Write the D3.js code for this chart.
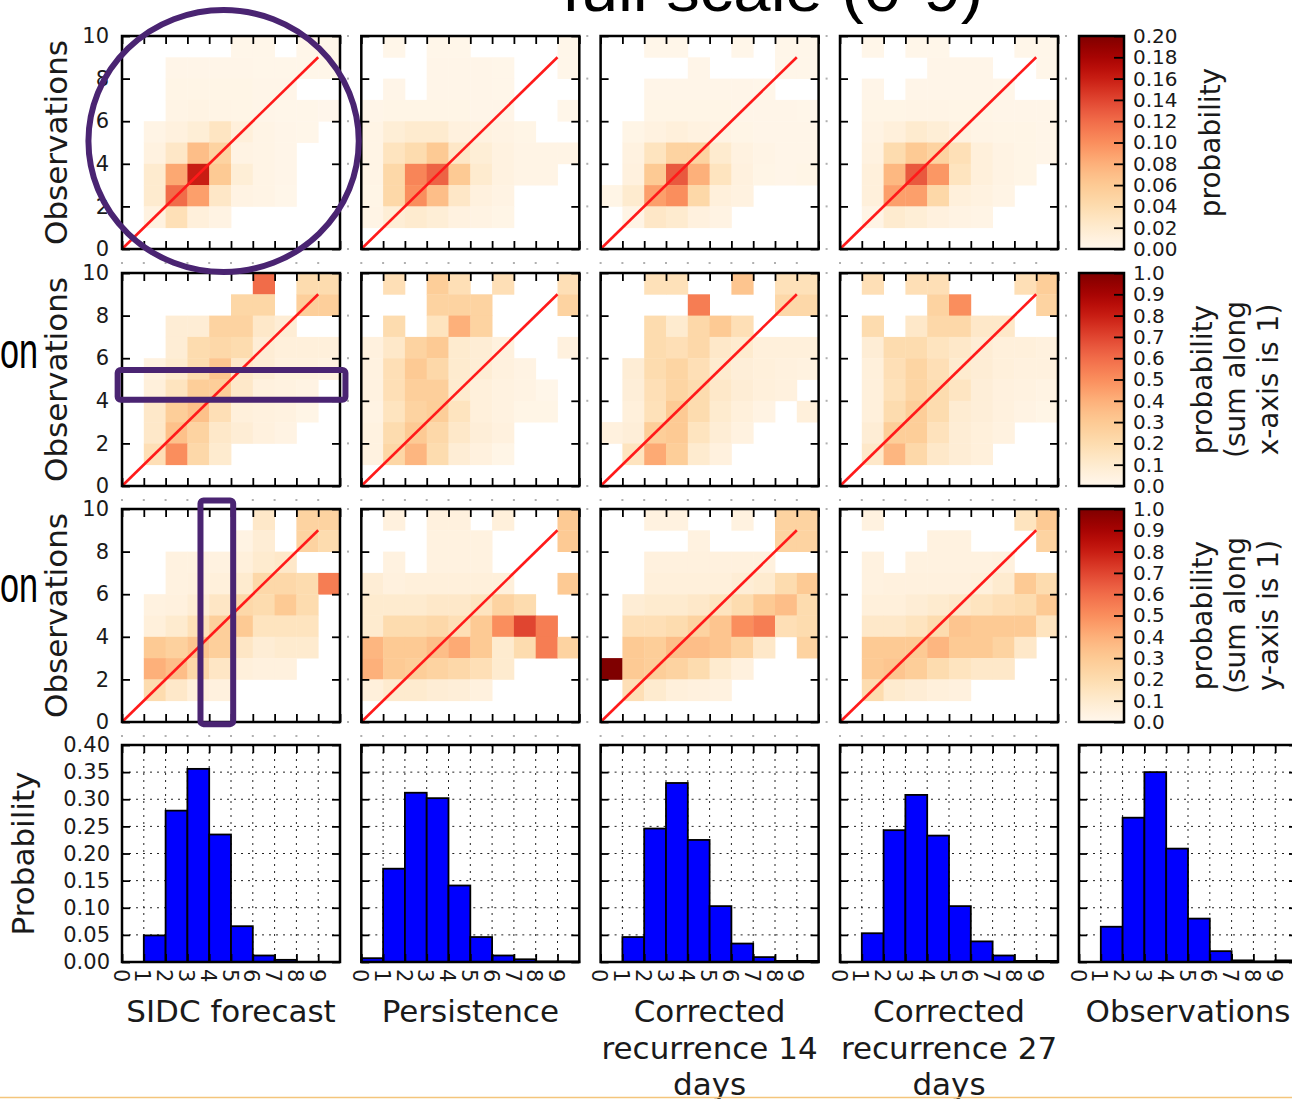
<!DOCTYPE html>
<html><head><meta charset="utf-8">
<script src="https://cdn.jsdelivr.net/npm/d3@7"></script>
<style>html,body{margin:0;padding:0;background:#fff;}svg{display:block;}</style>
</head><body>
<script>
// ---------------- DATA ----------------
const methods = ["SIDC forecast", "Persistence", "Corrected recurrence 14 days", "Corrected recurrence 27 days"];
const histTitles = [["SIDC forecast"], ["Persistence"], ["Corrected", "recurrence 14", "days"], ["Corrected", "recurrence 27", "days"], ["Observations"]];
const binStarts = [0,1,2,3,4,5,6,7,8,9];
const heatXTicks = [0,1,2,3,4,5,6,7,8,9,10];
const heatYTicks = [0,2,4,6,8,10];
const histXTicks = [0,1,2,3,4,5,6,7,8,9];
const histYTicks = [0,0.05,0.10,0.15,0.20,0.25,0.30,0.35,0.40];
const cbTicksJoint = [0,0.02,0.04,0.06,0.08,0.10,0.12,0.14,0.16,0.18,0.20];
const cbTicksNorm = [0,0.1,0.2,0.3,0.4,0.5,0.6,0.7,0.8,0.9,1.0];
const cbLabels = [["probability"], ["probability", "(sum along", "x-axis is 1)"], ["probability", "(sum along", "y-axis is 1)"]];

// Matrices: rows listed from top (observation bin 9) to bottom (bin 0); columns = forecast bins 0..9
// Row 1: joint probability
const jointSIDC = [
 [0,0,0,0,0,.002,.002,0,.002,.002],
 [0,0,.003,.003,.003,.003,.002,.002,.002,.002],
 [0,0,.004,.004,.004,.004,.003,.003,0,0],
 [0,0,.005,.006,.005,.004,.003,.002,.002,.001],
 [0,.005,.01,.015,.028,.012,.005,.003,.002,0],
 [0,.008,.025,.07,.05,.006,.005,.003,0,0],
 [0,.02,.085,.16,.06,.015,.005,.003,0,0],
 [0,.02,.12,.09,.025,.006,.005,.002,0,0],
 [0,.008,.035,.012,.006,0,0,0,0,0],
 [0,0,0,0,0,0,0,0,0,0]];
const jointPers = [
 [0,.002,0,.002,.002,0,0,0,0,.002],
 [0,0,0,.003,.003,.003,.002,0,0,.002],
 [0,.003,0,.003,.003,.003,.002,0,0,0],
 [.003,.004,.004,.004,.004,.003,.003,0,0,.002],
 [.005,.015,.02,.02,.01,.008,.006,.004,0,0],
 [.005,.03,.04,.06,.025,.015,.008,.005,.005,.005],
 [.005,.045,.105,.125,.06,.02,.008,.005,.005,0],
 [.004,.045,.1,.07,.025,.01,.006,0,0,0],
 [.005,.015,.02,.015,.008,.006,.004,0,0,0],
 [0,0,0,0,0,0,0,0,0,0]];
const jointRec14 = [
 [0,0,.002,.002,0,0,.002,0,.002,.002],
 [0,0,0,0,.003,0,0,0,.002,.002],
 [0,0,.003,.003,.003,.003,.003,.002,0,0],
 [0,0,.004,.004,.004,.004,.003,.003,.003,.002],
 [0,.004,.008,.012,.008,.006,.004,.003,.003,.003],
 [0,.008,.03,.05,.05,.02,.008,.005,.003,.003],
 [0,.01,.06,.13,.08,.03,.01,.004,.003,.004],
 [.004,.02,.09,.1,.045,.012,.008,0,0,0],
 [0,.005,.025,.02,.01,.006,0,0,0,0],
 [0,0,0,0,0,0,0,0,0,0]];
const jointRec27 = [
 [0,.002,0,.002,.002,0,0,0,.002,.002],
 [0,0,0,0,.003,.003,.003,0,0,.002],
 [0,.003,0,.003,.003,.003,.003,.002,0,0],
 [0,.004,.004,.005,.005,.004,.004,.003,.003,.003],
 [0,.006,.012,.02,.015,.008,.005,.004,.004,.003],
 [0,.008,.04,.06,.05,.035,.012,.006,.004,.003],
 [0,.012,.075,.13,.095,.03,.012,.006,.004,0],
 [0,.012,.09,.09,.045,.012,.008,.005,0,0],
 [0,.005,.02,.015,.01,.006,.005,0,0,0],
 [0,0,0,0,0,0,0,0,0,0]];
// Row 2: probability normalised along x-axis
const rowSIDC = [
 [0,0,0,0,0,0,.6,0,.2,.2],
 [0,0,0,0,0,.23,.23,0,.27,.27],
 [0,0,.08,.08,.25,.25,.12,.08,0,0],
 [0,0,.08,.2,.22,.2,.08,.06,.06,.06],
 [0,.04,.1,.2,.32,.12,.08,.05,.05,.04],
 [0,.06,.15,.28,.28,.12,.05,.04,.03,0],
 [0,.12,.28,.34,.18,.06,.05,.04,.02,0],
 [0,.12,.34,.25,.12,.08,.05,.03,0,0],
 [0,.18,.5,.22,.1,0,0,0,0,0],
 [0,0,0,0,0,0,0,0,0,0]];
const rowPers = [
 [0,.18,0,.28,.18,0,.18,0,0,.18],
 [0,0,0,.25,.25,.25,0,0,0,.25],
 [0,.2,0,.15,.4,.25,0,0,0,0],
 [.05,.12,.25,.3,.1,.08,.05,0,0,.05],
 [.04,.18,.3,.22,.1,.08,.05,.03,0,0],
 [.04,.18,.27,.27,.1,.06,.04,.03,.01,0],
 [.03,.15,.25,.28,.15,.06,.04,.02,.02,0],
 [.04,.2,.3,.22,.12,.07,.05,0,0,0],
 [.04,.23,.38,.2,.08,.05,.02,0,0,0],
 [0,0,0,0,0,0,0,0,0,0]];
const rowRec14 = [
 [0,0,.17,.17,0,0,.32,0,.17,.17],
 [0,0,0,0,.55,0,0,0,.22,.22],
 [0,0,.2,.1,.22,.3,.18,0,0,0],
 [0,0,.2,.18,.22,.12,.1,.06,.06,.06],
 [0,.08,.2,.24,.18,.1,.07,.06,.05,.04],
 [0,.07,.18,.24,.2,.12,.08,.06,.05,0],
 [0,.06,.17,.3,.2,.1,.06,.03,0,.06],
 [.05,.07,.28,.3,.15,.08,.04,0,0,0],
 [0,.15,.42,.28,.1,.05,0,0,0,0],
 [0,0,0,0,0,0,0,0,0,0]];
const rowRec27 = [
 [0,.18,0,.18,.18,0,0,0,.18,.28],
 [0,0,0,0,.25,.5,0,0,0,.25],
 [0,.2,0,.12,.22,.22,.12,.12,0,0],
 [0,.08,.2,.2,.15,.12,.08,.06,.06,.05],
 [0,.06,.18,.24,.18,.1,.08,.06,.05,.05],
 [0,.06,.17,.24,.2,.14,.07,.05,.04,.03],
 [0,.06,.2,.28,.2,.09,.07,.05,.03,.02],
 [0,.08,.28,.28,.16,.08,.06,.04,0,0],
 [0,.12,.38,.22,.12,.08,.06,0,0,0],
 [0,0,0,0,0,0,0,0,0,0]];
// Row 3: probability normalised along y-axis
const colSIDC = [
 [0,0,0,0,0,0,.12,0,.25,.25],
 [0,0,0,0,0,.03,.08,0,.25,.2],
 [0,0,.04,.04,.04,.06,.1,.12,0,0],
 [0,0,.04,.05,.06,.1,.22,.22,.2,.55],
 [0,.04,.05,.08,.13,.22,.2,.3,.2,0],
 [0,.06,.1,.17,.27,.3,.15,.15,.15,0],
 [0,.3,.26,.32,.27,.13,.08,.1,.1,0],
 [0,.4,.35,.22,.13,.06,.05,.05,0,0],
 [0,.2,.12,.06,.05,0,0,0,0,0],
 [0,0,0,0,0,0,0,0,0,0]];
const colPers = [
 [0,.05,0,.05,.05,0,.06,0,0,.3],
 [0,0,0,.04,.04,.04,0,0,0,.3],
 [0,.04,0,.04,.04,.04,0,0,0,0],
 [.08,.05,.06,.06,.06,.06,.06,0,0,.3],
 [.1,.1,.1,.12,.12,.15,.25,.2,0,0],
 [.1,.2,.2,.22,.18,.3,.5,.7,.55,0],
 [.38,.3,.3,.35,.42,.3,.1,.2,.55,.25],
 [.4,.3,.28,.25,.22,.18,.1,0,0,0],
 [.06,.1,.1,.08,.07,.05,0,0,0,0],
 [0,0,0,0,0,0,0,0,0,0]];
const colRec14 = [
 [0,0,.04,.04,0,0,.04,0,.25,.25],
 [0,0,0,0,.04,0,0,0,.25,.25],
 [0,0,.05,.05,.05,.05,.05,.05,0,0],
 [0,0,.06,.06,.06,.06,.08,.1,.2,.3],
 [0,.08,.1,.1,.12,.15,.2,.3,.35,.2],
 [0,.18,.18,.2,.25,.32,.5,.55,.18,.2],
 [0,.3,.28,.35,.35,.32,.25,.12,0,.25],
 [1.0,.3,.28,.25,.2,.1,.05,0,0,0],
 [0,.18,.1,.06,.05,.04,0,0,0,0],
 [0,0,0,0,0,0,0,0,0,0]];
const colRec27 = [
 [0,.04,0,0,0,0,0,0,.15,.3],
 [0,0,0,0,.04,.04,0,0,0,.25],
 [0,.04,0,.04,.04,.04,.04,.05,0,0],
 [0,.04,.05,.05,.05,.05,.06,.1,.3,.2],
 [0,.06,.06,.08,.1,.12,.15,.18,.2,.3],
 [0,.12,.12,.15,.2,.32,.3,.3,.3,.15],
 [0,.3,.3,.3,.38,.3,.3,.25,.12,0],
 [0,.3,.32,.28,.2,.15,.12,.12,0,0],
 [0,.2,.1,.08,.06,.05,0,0,0,0],
 [0,0,0,0,0,0,0,0,0,0]];
// Row 4: marginal histograms
const histSIDC = [0,0.049,0.279,0.356,0.235,0.066,0.012,0.004,0,0];
const histPers = [0.007,0.172,0.312,0.302,0.141,0.046,0.012,0.005,0.001,0.001];
const histRec14 = [0,0.046,0.246,0.330,0.225,0.103,0.034,0.009,0.002,0.002];
const histRec27 = [0,0.053,0.243,0.308,0.233,0.103,0.038,0.012,0.002,0.002];
const histObs = [0,0.065,0.266,0.350,0.209,0.080,0.020,0.003,0.001,0.003];

// annotations (data units of the first-column panels)
const annoEllipse = {cx:4.66, cy:5.07, rx:6.2, ry:6.15};
const annoRowBox = {x1:-0.2, x2:10.25, y1:4.05, y2:5.45};
const annoColBox = {x1:3.6, x2:5.1, y1:-0.1, y2:10.4};

// ---------------- LAYOUT ----------------
const W = 1292, H = 1099;
const CF = "'DejaVu Sans', sans-serif";
const SF = "'Liberation Sans', Arial, sans-serif";
const colX = [122, 361.3, 600.6, 840, 1079];
const rowY = [36, 273, 509];
const PW = 218, PH = 213;
const HY = 745, HH = 217;
const TXT = "#1a1a1a";
const PURPLE = "#4a2472";

const svg = d3.select("body").append("svg").attr("width", W).attr("height", H);
const defs = svg.append("defs");
const grad = defs.append("linearGradient").attr("id","orrd").attr("x1",0).attr("y1",1).attr("x2",0).attr("y2",0);
d3.range(0,1.0001,0.05).forEach(t => grad.append("stop").attr("offset", t).attr("stop-color", d3.interpolateOrRd(t)));

function styleAxis(g, fs) {
  g.select(".domain").remove();
  g.selectAll(".tick line").attr("stroke","#000").attr("stroke-width",1.8);
  g.attr("font-family", CF).attr("font-size", fs);
  g.selectAll(".tick text").attr("fill", TXT);
}

const rowsData = [
  {mats:[jointSIDC, jointPers, jointRec14, jointRec27], vmax:0.2, ticks:cbTicksJoint, fmt:d3.format(".2f")},
  {mats:[rowSIDC, rowPers, rowRec14, rowRec27], vmax:1, ticks:cbTicksNorm, fmt:d3.format(".1f")},
  {mats:[colSIDC, colPers, colRec14, colRec27], vmax:1, ticks:cbTicksNorm, fmt:d3.format(".1f")}
];

const panelScales = [];

rowsData.forEach((rd, ri) => {
  const y0 = rowY[ri];
  const color = d3.scaleSequential(d3.interpolateOrRd).domain([0, rd.vmax]);
  rd.mats.forEach((mat, ci) => {
    const x0 = colX[ci];
    const x = d3.scaleLinear().domain([0,10]).range([x0, x0+PW]);
    const y = d3.scaleLinear().domain([0,10]).range([y0+PH, y0]);
    if (ci === 0) panelScales[ri] = {x, y};
    const g = svg.append("g");
    const cells = [];
    mat.forEach((row, i) => row.forEach((v, j) => { if (v > 0) cells.push({bx: binStarts[j], by: 9 - i, v}); }));
    g.selectAll("rect.cell").data(cells).join("rect").attr("class","cell")
      .attr("x", d => x(d.bx)).attr("y", d => y(d.by + 1))
      .attr("width", d => x(d.bx + 1) - x(d.bx) + 0.4)
      .attr("height", d => y(d.by) - y(d.by + 1) + 0.4)
      .attr("fill", d => color(d.v));
    // diagonal
    g.append("line").attr("x1", x(0)).attr("y1", y(0)).attr("x2", x(9)).attr("y2", y(9))
      .attr("stroke", "#ff1a1a").attr("stroke-width", 2.6);
    // ticks
    const ab = g.append("g").attr("transform", `translate(0,${y0+PH})`)
      .call(d3.axisBottom(x).tickValues(heatXTicks).tickSize(-8).tickFormat(""));
    styleAxis(ab, 21);
    const at = g.append("g").attr("transform", `translate(0,${y0})`)
      .call(d3.axisTop(x).tickValues(heatXTicks).tickSize(-8).tickFormat(""));
    styleAxis(at, 21);
    const al = g.append("g").attr("transform", `translate(${x0},0)`)
      .call(d3.axisLeft(y).tickValues(heatYTicks).tickSize(-8).tickPadding(13)
        .tickFormat(ci === 0 ? d3.format("d") : ""));
    styleAxis(al, 21);
    const ar = g.append("g").attr("transform", `translate(${x0+PW},0)`)
      .call(d3.axisRight(y).tickValues(heatYTicks).tickSize(-8).tickFormat(""));
    styleAxis(ar, 21);
    // tiny remnant dots
    g.selectAll("rect.dotb").data(heatXTicks.slice(0,10)).join("rect").attr("class","dotb")
      .attr("x", d => x(d) - 1).attr("y", y0 + PH + 13).attr("width", 2).attr("height", 2).attr("fill", "#b0b0b0");
    g.selectAll("rect.dotr").data(heatYTicks).join("rect").attr("class","dotr")
      .attr("x", x0 + PW + 7).attr("y", d => y(d) - 1).attr("width", 2).attr("height", 2).attr("fill", "#b0b0b0");
    // frame
    g.append("rect").attr("x", x0).attr("y", y0).attr("width", PW).attr("height", PH)
      .attr("fill", "none").attr("stroke", "#000").attr("stroke-width", 2.5);
    if (ci === 0) {
      svg.append("text").attr("transform", `translate(67,${y0+PH/2}) rotate(-90)`)
        .attr("text-anchor","middle").attr("font-family", CF).attr("font-size", 31).attr("fill", TXT)
        .text("Observations");
    }
  });
  // colorbar
  const cx0 = colX[4], cw = 45;
  const cy = d3.scaleLinear().domain([0, rd.vmax]).range([y0+PH, y0]);
  const cg = svg.append("g");
  cg.append("rect").attr("x", cx0).attr("y", y0).attr("width", cw).attr("height", PH).attr("fill", "url(#orrd)");
  const ca = cg.append("g").attr("transform", `translate(${cx0+cw},0)`)
    .call(d3.axisRight(cy).tickValues(rd.ticks).tickSize(-10).tickPadding(9).tickFormat(rd.fmt));
  styleAxis(ca, 20);
  cg.append("rect").attr("x", cx0).attr("y", y0).attr("width", cw).attr("height", PH)
    .attr("fill", "none").attr("stroke", "#000").attr("stroke-width", 2.5);
  const lines = cbLabels[ri];
  const base = lines.length === 1 ? 1220 : 1212;
  lines.forEach((t, k) => {
    cg.append("text").attr("transform", `translate(${base + 33*k},${y0+PH/2}) rotate(-90)`)
      .attr("text-anchor","middle").attr("font-family", CF).attr("font-size", 28).attr("fill", TXT).text(t);
  });
});

// histograms
const hists = [histSIDC, histPers, histRec14, histRec27, histObs];
hists.forEach((vals, hi) => {
  const x0 = colX[hi];
  const x = d3.scaleLinear().domain([0,10]).range([x0, x0+PW]);
  const y = d3.scaleLinear().domain([0,0.4]).range([HY+HH, HY]);
  const g = svg.append("g");
  // grid
  g.selectAll("line.gx").data(histXTicks.slice(1)).join("line").attr("class","gx")
    .attr("x1", d => x(d)).attr("x2", d => x(d)).attr("y1", HY).attr("y2", HY+HH)
    .attr("stroke", "#222").attr("stroke-width", 1).attr("stroke-dasharray", "2,5");
  g.selectAll("line.gy").data(histYTicks.slice(1, -1)).join("line").attr("class","gy")
    .attr("x1", x0).attr("x2", x0+PW).attr("y1", d => y(d)).attr("y2", d => y(d))
    .attr("stroke", "#222").attr("stroke-width", 1).attr("stroke-dasharray", "2,5");
  // bars
  const bars = vals.map((v, i) => ({b: binStarts[i], v})).filter(d => d.v > 0);
  g.selectAll("rect.bar").data(bars).join("rect").attr("class","bar")
    .attr("x", d => x(d.b)).attr("y", d => y(d.v))
    .attr("width", d => x(d.b + 1) - x(d.b)).attr("height", d => y(0) - y(d.v))
    .attr("fill", "#0000ff").attr("stroke", "#000").attr("stroke-width", 1.8);
  // axes
  const ab = g.append("g").attr("transform", `translate(0,${HY+HH})`)
    .call(d3.axisBottom(x).tickValues(histXTicks).tickSize(-8).tickFormat(d3.format("d")));
  styleAxis(ab, 21);
  ab.selectAll(".tick text").attr("transform", "rotate(90)").attr("x", 7).attr("y", 0)
    .attr("dy", "0.42em").attr("text-anchor", "start");
  const at = g.append("g").attr("transform", `translate(0,${HY})`)
    .call(d3.axisTop(x).tickValues(histXTicks).tickSize(-8).tickFormat(""));
  styleAxis(at, 21);
  const al = g.append("g").attr("transform", `translate(${x0},0)`)
    .call(d3.axisLeft(y).tickValues(histYTicks).tickSize(-8).tickPadding(12)
      .tickFormat(hi === 0 ? d3.format(".2f") : ""));
  styleAxis(al, 21);
  const ar = g.append("g").attr("transform", `translate(${x0+PW},0)`)
    .call(d3.axisRight(y).tickValues(histYTicks).tickSize(-8).tickFormat(""));
  styleAxis(ar, 21);
  g.append("rect").attr("x", x0).attr("y", HY).attr("width", PW).attr("height", HH)
    .attr("fill", "none").attr("stroke", "#000").attr("stroke-width", 2.5);
  histTitles[hi].forEach((t, k) => {
    g.append("text").attr("x", x0 + PW/2).attr("y", 1022 + 36.5*k).attr("text-anchor", "middle")
      .attr("font-family", CF).attr("font-size", 31).attr("fill", TXT).text(t);
  });
});
svg.append("text").attr("transform", `translate(34,${HY+HH/2}) rotate(-90)`)
  .attr("text-anchor","middle").attr("font-family", CF).attr("font-size", 31).attr("fill", TXT)
  .text("Probability");

// slide text (partially cropped)
svg.append("text").attr("x", 562).attr("y", 11).attr("font-family", SF).attr("font-size", 62)
  .attr("textLength", 421).attr("lengthAdjust", "spacingAndGlyphs").attr("fill", "#000").text("full scale (0-9)");
[rowY[1] + 95, rowY[2] + 93].forEach(by => {
  svg.append("text").attr("x", 0).attr("y", by).attr("font-family", SF).attr("font-size", 50)
    .attr("textLength", 38).attr("lengthAdjust", "spacingAndGlyphs").attr("fill", "#000").text("on");
});

// purple annotations
{
  const s = panelScales[0];
  svg.append("ellipse").attr("cx", s.x(annoEllipse.cx)).attr("cy", s.y(annoEllipse.cy))
    .attr("rx", s.x(annoEllipse.rx) - s.x(0)).attr("ry", s.y(0) - s.y(annoEllipse.ry))
    .attr("fill", "none").attr("stroke", PURPLE).attr("stroke-width", 6);
  const s2 = panelScales[1];
  svg.append("rect").attr("x", s2.x(annoRowBox.x1)).attr("y", s2.y(annoRowBox.y2))
    .attr("width", s2.x(annoRowBox.x2) - s2.x(annoRowBox.x1)).attr("height", s2.y(annoRowBox.y1) - s2.y(annoRowBox.y2))
    .attr("rx", 3).attr("fill", "none").attr("stroke", PURPLE).attr("stroke-width", 6);
  const s3 = panelScales[2];
  svg.append("rect").attr("x", s3.x(annoColBox.x1)).attr("y", s3.y(annoColBox.y2))
    .attr("width", s3.x(annoColBox.x2) - s3.x(annoColBox.x1)).attr("height", s3.y(annoColBox.y1) - s3.y(annoColBox.y2))
    .attr("rx", 3).attr("fill", "none").attr("stroke", PURPLE).attr("stroke-width", 6);
}
// slide border line at bottom
svg.append("line").attr("x1", 0).attr("x2", W).attr("y1", 1097.5).attr("y2", 1097.5)
  .attr("stroke", "#f4c57c").attr("stroke-width", 1.5);
</script>
</body></html>
